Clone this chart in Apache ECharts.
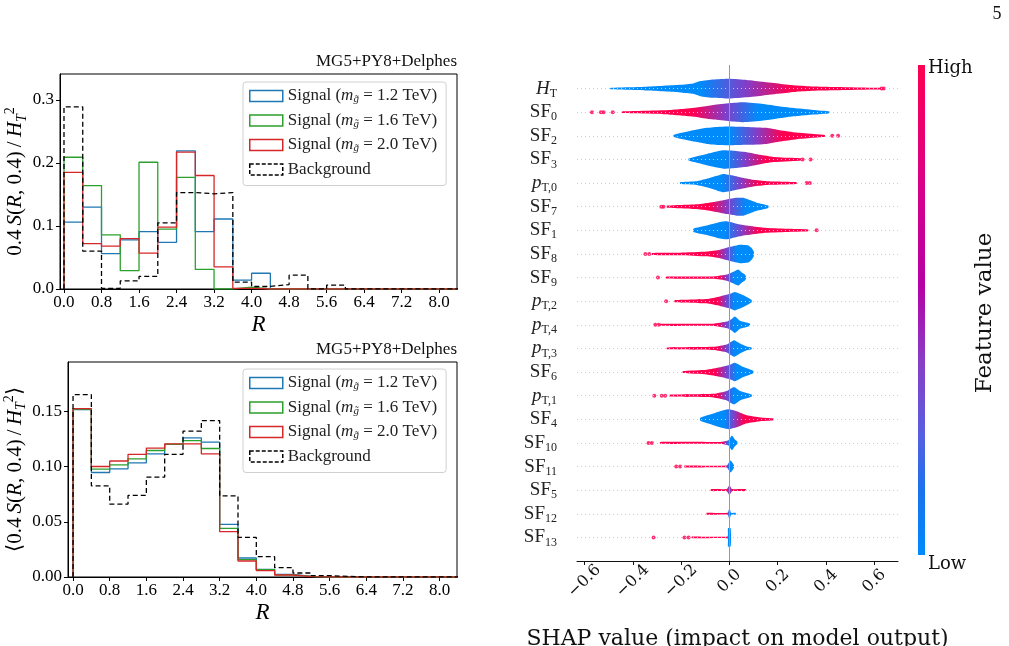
<!doctype html>
<html>
<head>
<meta charset="utf-8">
<title>R histograms and SHAP summary</title>
<style>html,body{margin:0;padding:0;background:#fff}#main{width:1009px;height:646px}</style>
</head>
<body>
<div id="main"></div>
<script src="https://cdn.jsdelivr.net/npm/echarts@6/dist/echarts.min.js"></script>
<script>
// histogram bins in R
var binEdges = [0.0, 0.4, 0.8, 1.2, 1.6, 2.0, 2.4, 2.8, 3.2, 3.6, 4.0, 4.4, 4.8, 5.2, 5.6, 6.0, 6.4, 6.8, 7.2, 7.6, 8.0, 8.4];
var rTicks = [0.0, 0.8, 1.6, 2.4, 3.2, 4.0, 4.8, 5.6, 6.4, 7.2, 8.0];
var topYTicks = [0.0, 0.1, 0.2, 0.3];
var botYTicks = [0.00, 0.05, 0.10, 0.15];

// top panel: 0.4 S(R,0.4)/H_T^2
var sig12Top = [0.106, 0.130, 0.056, 0.078, 0.091, 0.074, 0.219, 0.091, 0.111, 0.014, 0.025, 0, 0, 0, 0, 0, 0, 0, 0, 0, 0];
var sig16Top = [0.209, 0.164, 0.086, 0.029, 0.201, 0.095, 0.177, 0.031, 0.000, 0.003, 0, 0, 0, 0, 0, 0, 0, 0, 0, 0, 0];
var sig20Top = [0.185, 0.072, 0.068, 0.080, 0.057, 0.098, 0.217, 0.180, 0.035, 0.001, 0, 0, 0, 0, 0, 0, 0, 0, 0, 0, 0];
var bkgTop   = [0.289, 0.060, 0.001, 0.013, 0.020, 0.105, 0.153, 0.151, 0.153, 0.011, 0.004, 0.007, 0.022, 0.000, 0.006, 0, 0, 0, 0, 0, 0];

// bottom panel: <0.4 S(R,0.4)/H_T^2>
var sig12Bot = [0.1515, 0.0946, 0.0979, 0.1033, 0.1114, 0.1200, 0.1260, 0.1220, 0.0476, 0.0172, 0.0069, 0.0024, 0.0006, 0, 0, 0, 0, 0, 0, 0, 0];
var sig16Bot = [0.1520, 0.0976, 0.1015, 0.1070, 0.1145, 0.1200, 0.1235, 0.1163, 0.0440, 0.0157, 0.0066, 0.0020, 0.0005, 0, 0, 0, 0, 0, 0, 0, 0];
var sig20Bot = [0.1524, 0.1000, 0.1050, 0.1110, 0.1166, 0.1205, 0.1205, 0.1114, 0.0410, 0.0145, 0.0057, 0.0018, 0.0004, 0, 0, 0, 0, 0, 0, 0, 0];
var bkgBot   = [0.1650, 0.0825, 0.0660, 0.0738, 0.0904, 0.1110, 0.1320, 0.1416, 0.0735, 0.0358, 0.0184, 0.0084, 0.0036, 0.0012, 0.0006, 0, 0, 0, 0, 0, 0];

// SHAP summary (top to bottom)
var featBase = ['H', 'SF', 'SF', 'SF', 'p', 'SF', 'SF', 'SF', 'SF', 'p', 'p', 'p', 'SF', 'p', 'SF', 'SF', 'SF', 'SF', 'SF', 'SF'];
var featSub  = ['T', '0', '2', '3', 'T,0', '7', '1', '8', '9', 'T,2', 'T,4', 'T,3', '6', 'T,1', '4', '10', '11', '5', '12', '13'];
var shapTicks = [-0.6, -0.4, -0.2, 0.0, 0.2, 0.4, 0.6];
// density outline: [shap value, half width in rows]
var shapProfiles = [
  [[-0.493,0.03],[-0.342,0.08],[-0.204,0.16],[-0.150,0.22],[-0.120,0.32],[-0.066,0.39],[0,0.42],[0.072,0.37],[0.140,0.29],[0.209,0.21],[0.278,0.13],[0.347,0.09],[0.485,0.06],[0.595,0.04],[0.630,0.03]],
  [[-0.445,0.03],[-0.273,0.08],[-0.163,0.17],[-0.066,0.31],[0,0.38],[0.058,0.42],[0.140,0.35],[0.237,0.21],[0.347,0.10],[0.413,0.04]],
  [[-0.231,0.05],[-0.163,0.21],[-0.094,0.34],[-0.039,0.39],[0,0.40],[0.072,0.38],[0.154,0.34],[0.209,0.24],[0.278,0.14],[0.347,0.08],[0.395,0.04]],
  [[-0.169,0.04],[-0.121,0.17],[-0.066,0.31],[-0.025,0.39],[0.017,0.37],[0.072,0.31],[0.127,0.20],[0.182,0.11],[0.251,0.07],[0.299,0.04]],
  [[-0.204,0.04],[-0.135,0.08],[-0.094,0.18],[-0.052,0.31],[-0.025,0.39],[0,0.35],[0.044,0.25],[0.099,0.14],[0.154,0.08],[0.278,0.04]],
  [[-0.259,0.04],[-0.135,0.10],[-0.066,0.20],[-0.011,0.31],[0.030,0.38],[0.058,0.38],[0.085,0.28],[0.113,0.17],[0.161,0.05]],
  [[-0.149,0.07],[-0.094,0.20],[-0.039,0.35],[-0.011,0.38],[0.030,0.28],[0.072,0.20],[0.140,0.11],[0.237,0.07],[0.326,0.04]],
  [[-0.321,0.04],[-0.204,0.05],[-0.094,0.10],[-0.039,0.18],[0.003,0.30],[0.044,0.39],[0.079,0.36],[0.092,0.25],[0.101,0.10]],
  [[-0.263,0.04],[-0.066,0.05],[-0.011,0.13],[0.017,0.25],[0.037,0.34],[0.051,0.22],[0.062,0.15],[0.069,0.05]],
  [[-0.227,0.04],[-0.094,0.09],[-0.039,0.20],[0.003,0.31],[0.023,0.39],[0.058,0.25],[0.092,0.05]],
  [[-0.287,0.04],[-0.066,0.05],[-0.011,0.14],[0.010,0.25],[0.023,0.35],[0.044,0.17],[0.085,0.05]],
  [[-0.259,0.04],[-0.066,0.07],[-0.011,0.17],[0.019,0.35],[0.044,0.21],[0.072,0.08],[0.092,0.04]],
  [[-0.193,0.04],[-0.094,0.10],[-0.039,0.20],[0.003,0.31],[0.023,0.39],[0.058,0.21],[0.099,0.05]],
  [[-0.248,0.04],[-0.066,0.08],[-0.011,0.20],[0.019,0.37],[0.044,0.20],[0.092,0.05]],
  [[-0.121,0.06],[-0.080,0.20],[-0.039,0.34],[-0.004,0.42],[0.030,0.34],[0.072,0.17],[0.127,0.08],[0.182,0.04]],
  [[-0.287,0.04],[-0.036,0.04],[-0.004,0.11],[0.010,0.31],[0.023,0.14],[0.033,0.05]],
  [[-0.186,0.04],[-0.011,0.04],[0.003,0.25],[0.010,0.20],[0.019,0.05]],
  [[-0.077,0.04],[-0.011,0.05],[0.000,0.21],[0.011,0.05],[0.069,0.04]],
  [[-0.094,0.04],[-0.007,0.04],[0.000,0.25],[0.007,0.04],[0.026,0.04]],
  [[-0.156,0.04],[-0.008,0.04],[-0.006,0.39],[0.005,0.39],[0.007,0.04]]
];
// which side carries high feature values, and where the colour turns over
var shapHighSide = ['right', 'left', 'right', 'right', 'right', 'left', 'right', 'left', 'left', 'left', 'left', 'left', 'left', 'left', 'right', 'left', 'left', 'mid', 'left', 'left'];
var shapSplit = [[-0.12, 0.25], [-0.15, 0.12], [0.0, 0.22], [-0.02, 0.15], [-0.03, 0.12], [-0.08, 0.07], [-0.02, 0.12], [-0.06, 0.03], [-0.04, 0.02], [-0.05, 0.02],
                 [-0.05, 0.02], [-0.05, 0.02], [-0.06, 0.03], [-0.05, 0.02], [-0.02, 0.06], [-0.03, 0.0], [-0.02, 0.0], [-0.012, 0.012], [-0.01, -0.002], [-0.012, -0.004]];
// isolated outlier points [shap value, feature index]
var shapOutliers = [
  [0.630, 0], [0.639, 0],
  [-0.569, 1], [-0.532, 1], [-0.521, 1], [-0.483, 1],
  [0.426, 2], [0.450, 2],
  [0.303, 3], [0.336, 3],
  [0.320, 4], [0.333, 4],
  [-0.282, 5], [-0.273, 5],
  [0.361, 6],
  [-0.348, 7], [-0.332, 7],
  [-0.296, 8],
  [-0.262, 9],
  [-0.307, 10], [-0.293, 10],
  [-0.311, 13], [-0.280, 13], [-0.266, 13],
  [-0.335, 15], [-0.321, 15],
  [-0.220, 16], [-0.204, 16],
  [-0.314, 19], [-0.186, 19], [-0.169, 19]
];

var BLUE = '#008bfb', PURPLE = '#7f3fc9', RED = '#ff0051';
var NF = featBase.length;
var TEX = 'Liberation Serif';
var SANS = 'DejaVu Serif';

function stairs(values) {
  var pts = [[binEdges[0], 0]];
  values.forEach(function (v, i) {
    pts.push([binEdges[i], v]);
    pts.push([binEdges[i + 1], v]);
  });
  pts.push([binEdges[values.length], 0]);
  return pts;
}

var histColors = { sig12: '#1f77b4', sig16: '#2ca02c', sig20: '#d62728', bkg: '#000000' };
var legendNames = {
  sig12: 'Signal ({i|m}{s|g\u0303} = 1.2 TeV)',
  sig16: 'Signal ({i|m}{s|g\u0303} = 1.6 TeV)',
  sig20: 'Signal ({i|m}{s|g\u0303} = 2.0 TeV)',
  bkg: 'Background'
};

function histSeries(name, values, idx) {
  return {
    name: name, type: 'line', data: stairs(values),
    xAxisIndex: idx, yAxisIndex: idx,
    symbol: 'none', showSymbol: false, animation: false, silent: true,
    lineStyle: { color: histColors[name], width: 1.3, type: name === 'bkg' ? [5, 3] : 'solid' },
    itemStyle: { color: histColors[name] }
  };
}

function legendFor(top) {
  return {
    orient: 'vertical', left: 243, top: top, icon: 'rect',
    itemWidth: 33, itemHeight: 11, itemGap: 6.5, itemTextGap: 13,
    padding: [5, 9, 7, 6],
    backgroundColor: 'rgba(255,255,255,0.8)', borderColor: '#d0d0d0', borderWidth: 1, borderRadius: 3,
    selectedMode: false,
    data: ['sig12', 'sig16', 'sig20', 'bkg'].map(function (n) {
      return { name: n, itemStyle: { color: 'rgba(255,255,255,0)', borderColor: histColors[n], borderWidth: 1.5, borderType: n === 'bkg' ? [4, 2] : 'solid' } };
    }),
    formatter: function (n) { return legendNames[n]; },
    textStyle: {
      fontFamily: TEX, fontSize: 17, color: '#222', lineHeight: 18,
      rich: {
        i: { fontFamily: TEX, fontSize: 17, fontStyle: 'italic', color: '#222', lineHeight: 18 },
        s: { fontFamily: TEX, fontSize: 11, fontStyle: 'italic', color: '#222', verticalAlign: 'bottom', lineHeight: 12, padding: [4, 0, 0, 0] }
      }
    }
  };
}

var texRich = {
  n: { fontFamily: TEX, fontSize: 21, color: '#000', lineHeight: 26 },
  i: { fontFamily: TEX, fontSize: 21, fontStyle: 'italic', color: '#000', lineHeight: 26 },
  sub: { fontFamily: TEX, fontSize: 14, fontStyle: 'italic', color: '#000', verticalAlign: 'bottom', lineHeight: 14 },
  sup: { fontFamily: TEX, fontSize: 14, color: '#000', verticalAlign: 'top', lineHeight: 14 }
};

function histXAxis(idx, min) {
  return {
    type: 'value', gridIndex: idx, min: min, max: 8.38,
    name: 'R', nameLocation: 'middle', nameGap: 24,
    nameTextStyle: { fontFamily: TEX, fontSize: 23, fontStyle: 'italic', color: '#000' },
    axisLine: { show: true, onZero: false, lineStyle: { color: '#000', width: 1 } },
    axisTick: { show: true, length: 4, customValues: rTicks, lineStyle: { color: '#000' } },
    axisLabel: { customValues: rTicks, margin: 5, fontFamily: TEX, fontSize: 17, color: '#000', formatter: function (v) { return v.toFixed(1); } },
    splitLine: { show: false }
  };
}

function histYAxis(idx, max, ticks, digits, name, gap) {
  return {
    type: 'value', gridIndex: idx, min: 0, max: max,
    name: name, nameLocation: 'middle', nameRotate: 90, nameGap: gap,
    nameTextStyle: { rich: texRich },
    axisLine: { show: true, onZero: false, lineStyle: { color: '#000', width: 1 } },
    axisTick: { show: true, length: 4, customValues: ticks, lineStyle: { color: '#000' } },
    axisLabel: { customValues: ticks, margin: 6, fontFamily: TEX, fontSize: 17, color: '#000', formatter: function (v) { return v.toFixed(digits); } },
    splitLine: { show: false }
  };
}

function renderViolin(params, api) {
  var k = api.value(2);
  var row = api.value(1);
  var prof = shapProfiles[k];
  var upper = [], lower = [];
  prof.forEach(function (p) {
    upper.push(api.coord([p[0], row + p[1]]));
    lower.unshift(api.coord([p[0], row - p[1]]));
  });
  var xa = api.coord([shapSplit[k][0], row])[0];
  var xb = api.coord([shapSplit[k][1], row])[0];
  var side = shapHighSide[k];
  var cols = side === 'right' ? [BLUE, PURPLE, RED] : side === 'left' ? [RED, PURPLE, BLUE] : [RED, '#4a63e6', RED];
  var fill = new echarts.graphic.LinearGradient(xa, 0, xb, 0, [
    { offset: 0, color: cols[0] }, { offset: 0.5, color: cols[1] }, { offset: 1, color: cols[2] }
  ], true);
  return { type: 'polygon', shape: { points: upper.concat(lower), smooth: 0.15 }, style: { fill: fill, stroke: null } };
}

var chart = echarts.init(document.getElementById('main'), null, { renderer: 'canvas' });

chart.setOption({
  backgroundColor: '#fff',
  animation: false,
  title: [
    { text: 'MG5+PY8+Delphes', right: 552, top: 53, padding: 0, textStyle: { fontFamily: TEX, fontSize: 17, fontWeight: 'normal', color: '#111' } },
    { text: 'MG5+PY8+Delphes', right: 552, top: 341, padding: 0, textStyle: { fontFamily: TEX, fontSize: 17, fontWeight: 'normal', color: '#111' } }
  ],
  legend: [legendFor(82), legendFor(369)],
  grid: [
    { left: 60, top: 74, width: 397, height: 215, show: true, borderColor: '#000', borderWidth: 1, backgroundColor: 'transparent', outerBoundsMode: 'none' },
    { left: 68, top: 362, width: 389, height: 215, show: true, borderColor: '#000', borderWidth: 1, backgroundColor: 'transparent', outerBoundsMode: 'none' },
    { left: 577, top: 65, width: 321, height: 496, outerBoundsMode: 'none' }
  ],
  xAxis: [
    histXAxis(0, -0.085),
    histXAxis(1, -0.11),
    {
      type: 'value', gridIndex: 2, min: -0.631, max: 0.698,
      name: 'SHAP value (impact on model output)', nameLocation: 'middle', nameGap: 67,
      nameTextStyle: { fontFamily: SANS, fontSize: 22, color: '#111' },
      axisLine: { show: true, onZero: false, lineStyle: { color: '#111', width: 1 } },
      axisTick: { show: true, length: 4, customValues: shapTicks, lineStyle: { color: '#111' } },
      axisLabel: {
        customValues: shapTicks, rotate: 45, align: 'center', verticalAlign: 'middle', margin: 20,
        fontFamily: SANS, fontSize: 16, color: '#111',
        formatter: function (v) { return (v < 0 ? '\u2212' : '') + Math.abs(v).toFixed(1); }
      },
      splitLine: { show: false }
    }
  ],
  yAxis: [
    histYAxis(0, 0.341, topYTicks, 1, '{n|0.4\u2009}{i|S}{n|(}{i|R}{n|, 0.4)\u2009/\u2009}{i|H}{sub|T}{sup|2}', 20),
    histYAxis(1, 0.1946, botYTicks, 2, '{n|\u27e80.4\u2009}{i|S}{n|(}{i|R}{n|, 0.4)\u2009/\u2009}{i|H}{sub|T}{sup|2}{n|\u27e9}', 27),
    {
      type: 'value', gridIndex: 2, min: -1, max: NF, interval: 1,
      axisLine: { show: false }, axisTick: { show: false },
      splitLine: { show: false },
      axisLabel: {
        margin: 20,
        formatter: function (v) {
          if (v < 0 || v >= NF) return '';
          var k = NF - 1 - v;
          var base = featBase[k] === 'SF' ? '{m|SF}' : '{i|' + featBase[k] + '}';
          return base + '{s|' + featSub[k] + '}';
        },
        rich: {
          m: { fontFamily: TEX, fontSize: 19, color: '#222', lineHeight: 22 },
          i: { fontFamily: TEX, fontSize: 19, fontStyle: 'italic', color: '#222', lineHeight: 22 },
          s: { fontFamily: TEX, fontSize: 12, color: '#222', verticalAlign: 'bottom', lineHeight: 12, padding: [5, 0, 0, 0] }
        }
      }
    }
  ],
  series: [
    histSeries('sig12', sig12Top, 0),
    histSeries('sig16', sig16Top, 0),
    histSeries('sig20', sig20Top, 0),
    histSeries('bkg', bkgTop, 0),
    histSeries('sig12', sig12Bot, 1),
    histSeries('sig16', sig16Bot, 1),
    histSeries('sig20', sig20Bot, 1),
    histSeries('bkg', bkgBot, 1),
    {
      // dotted guide line behind each feature row
      type: 'line', xAxisIndex: 2, yAxisIndex: 2, data: [], silent: true, z: 1,
      markLine: {
        silent: true, symbol: ['none', 'none'], label: { show: false },
        lineStyle: { color: '#cccccc', width: 1, type: [1, 3] },
        data: featBase.map(function (b, k) { return { yAxis: NF - 1 - k }; })
      }
    },
    {
      type: 'custom', xAxisIndex: 2, yAxisIndex: 2, silent: true,
      data: featBase.map(function (b, k) { return [0, NF - 1 - k, k]; }),
      renderItem: renderViolin,
      z: 2
    },
    {
      type: 'scatter', xAxisIndex: 2, yAxisIndex: 2, silent: true,
      symbolSize: 4, itemStyle: { color: RED },
      data: shapOutliers.map(function (p) { return [p[0], NF - 1 - p[1]]; }),
      markLine: {
        silent: true, symbol: ['none', 'none'], label: { show: false },
        lineStyle: { color: '#999', width: 1, type: 'solid' },
        data: [{ xAxis: 0 }]
      },
      z: 3
    }
  ],
  graphic: [
    {
      type: 'rect', left: 918, top: 65, shape: { width: 7, height: 490 },
      style: {
        fill: new echarts.graphic.LinearGradient(0, 0, 0, 1, [
          { offset: 0, color: '#ff0051' }, { offset: 0.25, color: '#d8008a' }, { offset: 0.45, color: '#b600a6' },
          { offset: 0.6, color: '#8a3cc4' }, { offset: 0.75, color: '#5a5ee0' }, { offset: 0.87, color: '#1a72ee' },
          { offset: 1, color: '#008bfb' }
        ])
      }
    },
    { type: 'text', left: 928, top: 59, style: { text: 'High', font: '18px "DejaVu Serif"', fill: '#111' } },
    { type: 'text', left: 928, top: 555, style: { text: 'Low', font: '18px "DejaVu Serif"', fill: '#111' } },
    { type: 'text', x: 985, y: 313, rotation: Math.PI / 2, style: { text: 'Feature value', font: '23px "DejaVu Serif"', fill: '#111', align: 'center', verticalAlign: 'middle' } },
    { type: 'text', x: 997, y: 14, style: { text: '5', font: '18px "Liberation Serif"', fill: '#111', align: 'center', verticalAlign: 'middle' } }
  ]
});

window.onresize = chart.resize;
</script>
</body>
</html>
